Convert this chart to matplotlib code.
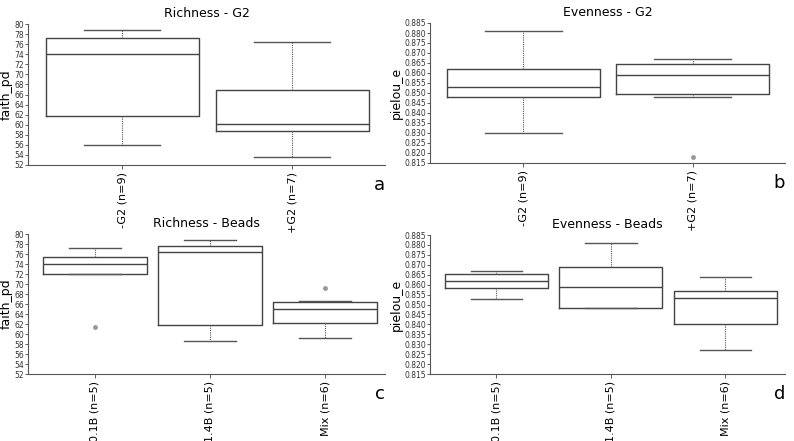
import matplotlib
matplotlib.use("Agg")
import matplotlib.pyplot as plt

# box statistics: (whislo, q1, med, q3, whishi, fliers)
g2_labels = ["-G2 (n=9)", "+G2 (n=7)"]
beads_labels = ["0.1B (n=5)", "1.4B (n=5)", "Mix (n=6)"]

rich_g2 = [(56.0, 61.8, 74.0, 77.3, 78.9, []),
           (53.6, 58.8, 60.2, 66.8, 76.4, [])]
even_g2 = [(0.830, 0.848, 0.853, 0.862, 0.881, []),
           (0.848, 0.8495, 0.859, 0.8645, 0.867, [0.818])]
rich_beads = [(72.0, 72.0, 74.0, 75.5, 77.3, [61.5]),
              (58.7, 61.8, 76.4, 77.7, 78.9, []),
              (59.3, 62.2, 65.1, 66.5, 66.7, [69.3])]
even_beads = [(0.853, 0.8585, 0.862, 0.8655, 0.867, []),
              (0.848, 0.848, 0.859, 0.869, 0.881, []),
              (0.827, 0.840, 0.8535, 0.857, 0.864, [])]

rich_ticks = list(range(52, 81, 2))
even_ticks = [0.815 + 0.005 * i for i in range(15)]

W, H = 794, 441
fig = plt.figure(figsize=(W / 100, H / 100), dpi=100)


def panel(rect_px, stats, labels, title, ylabel, yticks, fmt, letter, xlim):
    x0, y0, x1, y1 = rect_px
    ax = fig.add_axes([x0 / W, 1 - y1 / H, (x1 - x0) / W, (y1 - y0) / H])
    bxp = []
    for (lo, q1, med, q3, hi, fl), lab in zip(stats, labels):
        bxp.append(dict(whislo=lo, q1=q1, med=med, q3=q3, whishi=hi, fliers=fl, label=lab))
    ax.bxp(bxp, positions=range(1, len(bxp) + 1), widths=0.9, showfliers=True,
           boxprops=dict(color="#444444", linewidth=1.0),
           medianprops=dict(color="#444444", linewidth=1.0),
           whiskerprops=dict(color="#555555", linewidth=0.8, linestyle=(0, (1, 1))),
           capprops=dict(color="#555555", linewidth=1.0),
           capwidths=0.45,
           flierprops=dict(marker="o", markersize=2.5, markerfacecolor="#999999",
                           markeredgecolor="#999999"))
    ax.set_xlim(*xlim)
    ax.set_ylim(yticks[0], yticks[-1])
    ax.set_yticks(yticks)
    ax.set_yticklabels([fmt.format(t) for t in yticks], fontsize=5.5, color="#333333")
    ax.set_xticklabels(labels, rotation=90, fontsize=8)
    ax.tick_params(axis="y", length=2, width=0.6, color="#444444", pad=1)
    ax.tick_params(axis="x", length=3, width=0.6, color="#444444", pad=2)
    for s in ("top", "right"):
        ax.spines[s].set_visible(False)
    for s in ("left", "bottom"):
        ax.spines[s].set_color("#555555")
        ax.spines[s].set_linewidth(0.8)
    ax.set_title(title, fontsize=9, pad=5)
    ax.set_ylabel(ylabel, fontsize=9, labelpad=1)
    ax.text(1.0, -0.08, letter, transform=ax.transAxes, fontsize=13,
            ha="right", va="top")
    return ax


panel((28, 24, 385, 165), rich_g2, g2_labels, "Richness - G2", "faith_pd",
      rich_ticks, "{:d}", "a", (0.447, 2.547))
panel((430, 23, 785, 163), even_g2, g2_labels, "Evenness - G2", "pielou_e",
      even_ticks, "{:.3f}", "b", (0.447, 2.547))
panel((28, 234, 385, 374), rich_beads, beads_labels, "Richness - Beads", "faith_pd",
      rich_ticks, "{:d}", "c", (0.42, 3.52))
panel((430, 235, 785, 374), even_beads, beads_labels, "Evenness - Beads", "pielou_e",
      even_ticks, "{:.3f}", "d", (0.42, 3.52))

fig.savefig("out.png", dpi=100)
